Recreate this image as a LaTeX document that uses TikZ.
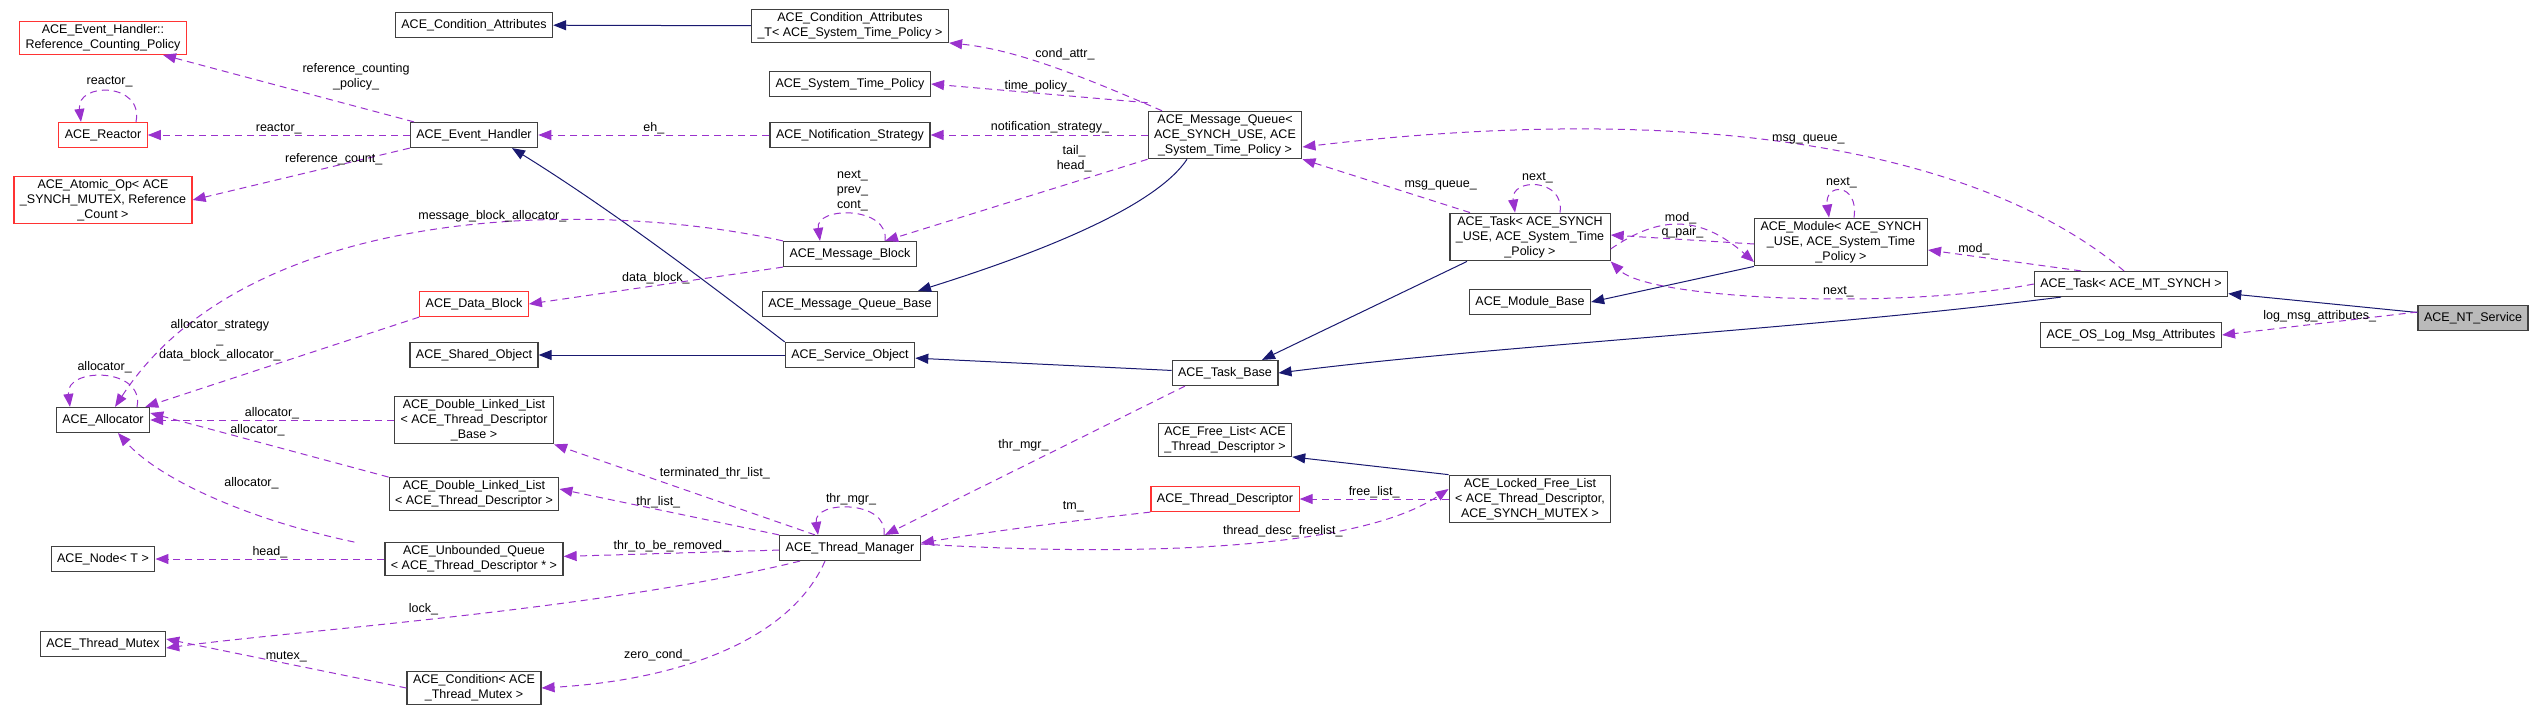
\documentclass[tikz,border=0pt]{standalone}
\usepackage{fontspec}
\setmainfont{Liberation Sans}
\usetikzlibrary{arrows.meta}
\definecolor{relcol}{HTML}{9A32CD}
\definecolor{inhcol}{HTML}{191970}
\tikzset{
  box/.style={draw=black!75,line width=1.2pt,fill=white,align=center,inner xsep=6pt,inner ysep=3pt,
    minimum height=25pt,font=\fontsize{12.5}{15}\selectfont},
  redbox/.style={box,draw=red!80},
  graybox/.style={box,fill=black!27},
  rel/.style={draw=relcol,line width=1pt,dash pattern=on 7pt off 5pt,-{Triangle[length=13pt,width=10pt]}},
  inh/.style={draw=inhcol,line width=1pt,-{Triangle[length=13pt,width=10pt]}},
  lbl/.style={font=\fontsize{12.5}{15}\selectfont,align=center,inner sep=1pt},
}
\newcommand{\lt}{\textless}
\newcommand{\gt}{\textgreater}
\begin{document}
\begin{tikzpicture}[x=1pt,y=-1pt]
    \useasboundingbox (0,0) rectangle (2539,715);
    % column 1
    \node[redbox] (rcp) at (103,38) {ACE\_Event\_Handler::\\Reference\_Counting\_Policy};
    \node[redbox] (reac) at (103,135) {ACE\_Reactor};
    \node[redbox] (aop) at (103,200) {ACE\_Atomic\_Op\lt{} ACE\\\_SYNCH\_MUTEX, Reference\\\_Count \gt};
    \node[box] (alloc) at (103,420) {ACE\_Allocator};
    \node[box] (anode) at (103,559) {ACE\_Node\lt{} T \gt};
    \node[box] (tmx) at (103,644) {ACE\_Thread\_Mutex};
    % column 2
    \node[box] (ca) at (474,25) {ACE\_Condition\_Attributes};
    \node[box] (eh) at (474,135) {ACE\_Event\_Handler};
    \node[redbox] (db) at (474,304) {ACE\_Data\_Block};
    \node[box] (sho) at (474,355) {ACE\_Shared\_Object};
    \node[box] (dllb) at (474,420) {ACE\_Double\_Linked\_List\\\lt{} ACE\_Thread\_Descriptor\\\_Base \gt};
    \node[box] (dll) at (474,494) {ACE\_Double\_Linked\_List\\\lt{} ACE\_Thread\_Descriptor \gt};
    \node[box] (uq) at (474,559) {ACE\_Unbounded\_Queue\\\lt{} ACE\_Thread\_Descriptor * \gt};
    \node[box] (cond) at (474,688) {ACE\_Condition\lt{} ACE\\\_Thread\_Mutex \gt};
    % column 3
    \node[box] (cat) at (850,26) {ACE\_Condition\_Attributes\\\_T\lt{} ACE\_System\_Time\_Policy \gt};
    \node[box] (stp) at (850,84) {ACE\_System\_Time\_Policy};
    \node[box] (ns) at (850,135) {ACE\_Notification\_Strategy};
    \node[box] (mblk) at (850,254) {ACE\_Message\_Block};
    \node[box] (mqb) at (850,304) {ACE\_Message\_Queue\_Base};
    \node[box] (so) at (850,355) {ACE\_Service\_Object};
    \node[box] (tmgr) at (850,548) {ACE\_Thread\_Manager};
    % column 4
    \node[box] (mq) at (1225,135) {ACE\_Message\_Queue\lt\\ACE\_SYNCH\_USE, ACE\\\_System\_Time\_Policy \gt};
    \node[box] (tb) at (1225,373) {ACE\_Task\_Base};
    \node[box] (fl) at (1225,440) {ACE\_Free\_List\lt{} ACE\\\_Thread\_Descriptor \gt};
    \node[redbox] (td) at (1225,499) {ACE\_Thread\_Descriptor};
    % column 5
    \node[box] (tsu) at (1530,237) {ACE\_Task\lt{} ACE\_SYNCH\\\_USE, ACE\_System\_Time\\\_Policy \gt};
    \node[box] (mbase) at (1530,302) {ACE\_Module\_Base};
    \node[box] (lfl) at (1530,499) {ACE\_Locked\_Free\_List\\\lt{} ACE\_Thread\_Descriptor,\\ACE\_SYNCH\_MUTEX \gt};
    \node[box] (modu) at (1841,242) {ACE\_Module\lt{} ACE\_SYNCH\\\_USE, ACE\_System\_Time\\\_Policy \gt};
    \node[box] (tmt) at (2131,284) {ACE\_Task\lt{} ACE\_MT\_SYNCH \gt};
    \node[box] (olma) at (2131,335) {ACE\_OS\_Log\_Msg\_Attributes};
    \node[graybox] (nts) at (2473,318) {ACE\_NT\_Service};

    % inheritance
    \draw[inh] (cat) -- (ca);
    \draw[inh] (so.north west) .. controls (730,300) and (620,215) .. ([xshift=38pt]eh.south);
    \draw[inh] (so) -- (sho);
    \draw[inh] ([xshift=-38pt]mq.south) .. controls (1150,215) and (1000,265) .. ([xshift=68pt]mqb.north);
    \draw[inh] (tb) -- (so);
    \draw[inh] ([xshift=-63pt]tsu.south) -- ([xshift=37pt]tb.north);
    \draw[inh] (modu.south west) -- (mbase.east);
    \draw[inh] ([xshift=-70pt]tmt.south) .. controls (1800,330) and (1500,345) .. (tb.east);
    \draw[inh] (lfl.north west) -- (fl.south east);
    \draw[inh] (nts) -- (tmt);

    % members
    \draw[rel] ([xshift=-60pt]eh.north) -- ([xshift=60pt]rcp.south) node[lbl,pos=0.45,above right]{reference\_counting\\\_policy\_};
    \draw[rel] (eh) -- (reac) node[lbl,midway,above]{reactor\_};
    \draw[rel] ([xshift=33pt]reac.north) .. controls +(8,-40) and +(-5,-40) .. ([xshift=-22pt]reac.north) node[lbl,pos=0.5,above=3pt]{reactor\_};
    \draw[rel] (eh.south west) -- (aop.east) node[lbl,pos=0.35,above]{reference\_count\_};
    \draw[rel] (ns) -- (eh) node[lbl,midway,above]{eh\_};
    \draw[rel] ([xshift=-63pt]mq.north) .. controls (1090,80) and (1020,50) .. (cat.south east) node[lbl,pos=0.6,above right]{cond\_attr\_};
    \draw[rel] ([yshift=8pt]mq.north west) -- (stp.east) node[lbl,pos=0.5,above]{time\_policy\_};
    \draw[rel] (mq.west) -- (ns.east) node[lbl,pos=0.45,above]{notification\_strategy\_};
    \draw[rel] (mq.south west) -- ([xshift=35pt]mblk.north) node[lbl,pos=0.2,above left=2pt]{tail\_\\head\_};
    \draw[rel] ([xshift=35pt]mblk.north) .. controls +(5,-35) and +(-5,-35) .. ([xshift=-30pt]mblk.north) node[lbl,pos=0.5,above=2pt]{next\_\\prev\_\\cont\_};
    \draw[rel] (mblk.north west) .. controls (600,200) and (250,200) .. ([xshift=12pt]alloc.north) node[lbl,pos=0.42,above]{message\_block\_allocator\_};
    \draw[rel] (mblk.south west) -- (db.east) node[lbl,pos=0.5,above]{data\_block\_};
    \draw[rel] (db.south west) -- ([xshift=-5pt]alloc.north east) node[lbl,pos=0.5,above left]{allocator\_strategy\\\_\\data\_block\_allocator\_};
    \draw[rel] ([xshift=34pt]alloc.north) .. controls +(8,-40) and +(-5,-40) .. ([xshift=-33pt]alloc.north) node[lbl,pos=0.5,above=2pt]{allocator\_};
    \draw[rel] (dllb.west) -- (alloc.east) node[lbl,midway,above]{allocator\_};
    \draw[rel] (dll.north west) -- ([yshift=7pt]alloc.east) node[lbl,pos=0.55,above=4pt]{allocator\_};
    \draw[rel] ([xshift=-30pt]uq.north west) .. controls (250,520) and (160,480) .. ([xshift=15pt]alloc.south) node[lbl,pos=0.35,above=22pt]{allocator\_};
    \draw[rel] (uq) -- (anode) node[lbl,midway,above]{head\_};
    \draw[rel] (cond.west) -- ([yshift=5pt]tmx.east) node[lbl,midway,above]{mutex\_};
    \draw[rel] ([xshift=-50pt]tmgr.south) .. controls (600,610) and (300,630) .. ([yshift=-4pt]tmx.east) node[lbl,pos=0.55,above=4pt]{lock\_};
    \draw[rel] ([xshift=-25pt]tmgr.south) .. controls (790,640) and (680,680) .. (cond.east) node[lbl,pos=0.6,above left]{zero\_cond\_};
    \draw[rel] (tmgr) -- (uq) node[lbl,midway,above]{thr\_to\_be\_removed\_};
    \draw[rel] (tmgr.north west) -- ([yshift=5pt]dll.east) node[lbl,pos=0.55,above]{thr\_list\_};
    \draw[rel] ([xshift=-35pt]tmgr.north) -- (dllb.south east) node[lbl,pos=0.6,above right]{terminated\_thr\_list\_};
    \draw[rel] ([xshift=34pt]tmgr.north) .. controls +(5,-35) and +(-5,-35) .. ([xshift=-32pt]tmgr.north) node[lbl,pos=0.5,above=2pt]{thr\_mgr\_};
    \draw[rel] ([xshift=-40pt]tb.south) -- ([xshift=35pt]tmgr.north) node[lbl,pos=0.4,left=15pt]{thr\_mgr\_};
    \draw[rel] (td.south west) .. controls (1080,520) and (1000,530) .. ([yshift=5pt]tmgr.east) node[lbl,pos=0.35,above=8pt]{tm\_};
    \draw[rel] ([yshift=4pt]tmgr.east) .. controls (1100,555) and (1350,555) .. ([yshift=10pt]lfl.west) node[lbl,pos=0.62,above]{thread\_desc\_freelist\_};
    \draw[rel] (lfl.west) -- (td.east) node[lbl,midway,above]{free\_list\_};
    \draw[rel] ([xshift=-60pt]tsu.north) -- (mq.south east) node[lbl,pos=0.4,above right]{msg\_queue\_};
    \draw[rel] ([xshift=30pt]tsu.north) .. controls +(5,-35) and +(-5,-35) .. ([xshift=-15pt]tsu.north) node[lbl,pos=0.5,above=2pt]{next\_};
    \draw[rel] ([yshift=-12pt]tsu.east) .. controls (1660,215) and (1700,215) .. ([yshift=-20pt]modu.west) node[lbl,midway,above]{mod\_};
    \draw[rel] ([yshift=-2pt]modu.west) -- ([yshift=2pt]tsu.east) node[lbl,midway,above]{q\_pair\_};
    \draw[rel] ([xshift=13pt]modu.north) .. controls +(5,-35) and +(-5,-35) .. ([xshift=-12pt]modu.north) node[lbl,pos=0.5,above=2pt]{next\_};
    \draw[rel] ([xshift=-50pt]tmt.north) -- ([yshift=-8pt]modu.east) node[lbl,pos=0.7,above]{mod\_};
    \draw[rel] ([xshift=-7pt]tmt.north) .. controls (1980,150) and (1700,100) .. ([yshift=-12pt]mq.east) node[lbl,pos=0.5,above]{msg\_queue\_};
    \draw[rel] (tmt.west) .. controls (1900,310) and (1650,300) .. (tsu.south east) node[lbl,pos=0.4,above]{next\_};
    \draw[rel] ([yshift=6pt]nts.west) -- (olma.east) node[lbl,midway,above]{log\_msg\_attributes\_};
\end{tikzpicture}
\end{document}
